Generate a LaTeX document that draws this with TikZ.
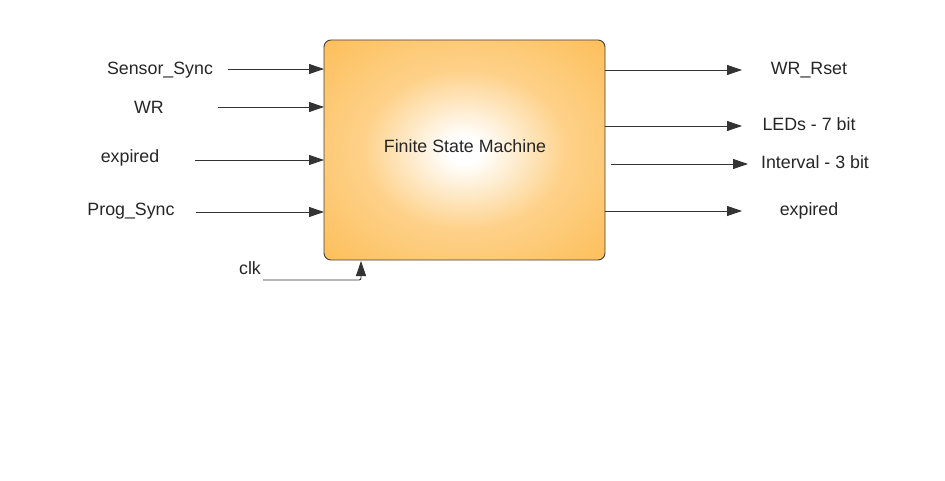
\documentclass[tikz,border=0pt]{standalone}
\usepackage{fontspec}
\setmainfont{Liberation Sans}
\usetikzlibrary{arrows.meta}
\definecolor{fsmorange}{HTML}{FDBE58}
\definecolor{linegray}{HTML}{333333}
\pgfdeclareradialshading{fsmshade}{\pgfpoint{0bp}{0bp}}{color(0bp)=(white); color(3bp)=(white); color(18bp)=(fsmorange!70); color(36bp)=(fsmorange); color(100bp)=(fsmorange)}
\begin{document}
\begin{tikzpicture}[x=1pt,y=-1pt,
  lbl/.style={font=\fontsize{17.8}{20}\selectfont, text=black!85, inner sep=0pt, anchor=base},
  sig/.style={draw=linegray, line width=0.9pt, -{Triangle[length=15pt,width=10pt]}},
  fsmbox/.style={draw=black!75, line width=0.9pt, rounded corners=7pt, shading=fsmshade}]
\useasboundingbox[fill=white] (0,0) rectangle (945,481);
\path[fsmbox] (324,40) rectangle (605,260);
\node[lbl] (fsm) at (465,153) {Finite State Machine};
% inputs
\node[lbl] (ss) at (160,75) {Sensor\_Sync};
\node[lbl] (wr) at (149,114) {WR};
\node[lbl] (ex) at (130,163) {expired};
\node[lbl] (ps) at (131,216) {Prog\_Sync};
\node[lbl] (clk) at (250,274) {clk};
\coordinate (ssa) at (228,69); \coordinate (ssb) at (324,69);
\coordinate (wra) at (218,107); \coordinate (wrb) at (324,107);
\coordinate (exa) at (195,160); \coordinate (exb) at (324,160);
\coordinate (psa) at (196,212); \coordinate (psb) at (324,212);
\draw[sig] (ssa) -- (ssb);
\draw[sig] (wra) -- (wrb);
\draw[sig] (exa) -- (exb);
\draw[sig] (psa) -- (psb);
\coordinate (clka) at (263,280); \coordinate (clkc) at (361,280); \coordinate (clkb) at (361,261);
\draw[sig, rounded corners=2pt] (clka) -- (clkc) -- (clkb);
% outputs
\node[lbl] (wrr) at (809,75) {WR\_Rset};
\node[lbl] (led) at (809,131) {LEDs - 7 bit};
\node[lbl] (int) at (815,169) {Interval - 3 bit};
\node[lbl] (exo) at (809,216) {expired};
\coordinate (o1a) at (605,70); \coordinate (o1b) at (742,70);
\coordinate (o2a) at (605,126); \coordinate (o2b) at (742,126);
\coordinate (o3a) at (611,164); \coordinate (o3b) at (748,164);
\coordinate (o4a) at (605,211); \coordinate (o4b) at (742,211);
\draw[sig] (o1a) -- (o1b);
\draw[sig] (o2a) -- (o2b);
\draw[sig] (o3a) -- (o3b);
\draw[sig] (o4a) -- (o4b);
\end{tikzpicture}
\end{document}
